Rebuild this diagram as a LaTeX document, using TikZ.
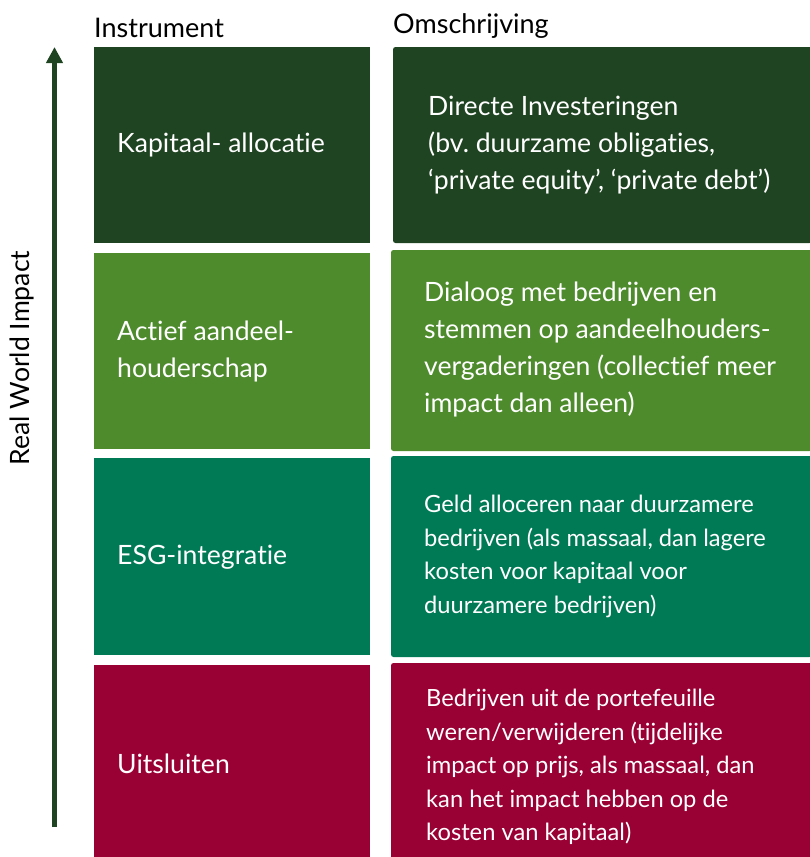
\documentclass[tikz,border=0pt]{standalone}
\usepackage{fontspec}
\setmainfont[Ligatures=NoCommon]{Lato}
\usetikzlibrary{arrows.meta}
\definecolor{dkgreen}{RGB}{31,68,34}
\definecolor{ltgreen}{RGB}{78,139,44}
\definecolor{tealgreen}{RGB}{0,122,85}
\definecolor{crimson}{RGB}{153,0,51}
\frenchspacing
\begin{document}
\begin{tikzpicture}[x=1pt,y=-1pt,
  ltext/.style={text=white,anchor=west,align=left,inner sep=0pt,font=\fontsize{26.6}{37}\selectfont},
  rtext/.style={text=white,anchor=west,align=left,inner sep=0pt,font=\fontsize{26.6}{37}\selectfont},
  stext/.style={text=white,anchor=west,align=left,inner sep=0pt,font=\fontsize{23.7}{33.5}\selectfont},
  head/.style={anchor=base west,inner sep=0pt,font=\fontsize{27}{30}\selectfont}]
\useasboundingbox (0,0) rectangle (809,857);
% left column
\fill[dkgreen] (94,47) rectangle (370,243);
\fill[ltgreen] (94,253) rectangle (370,449);
\fill[tealgreen] (94,458) rectangle (370,655);
\fill[crimson] (94,665) rectangle (370,860);
% right column
\fill[dkgreen,rounded corners=2.5pt] (393,47) rectangle (812,243);
\fill[ltgreen,rounded corners=2.5pt] (391,250) rectangle (812,451);
\fill[tealgreen,rounded corners=2.5pt] (391,456) rectangle (812,657);
\fill[crimson,rounded corners=2.5pt] (391,663) rectangle (812,862);
% headers
\node[head] (hinst) at (94,37) {Instrument};
\node[head] (homs) at (393,33) {Omschrijving};
% arrow
\coordinate (abot) at (54.5,827);
\coordinate (atop) at (54.5,47);
\draw[dkgreen,line width=5pt,-{Triangle[width=16pt,length=16pt]}] (abot) -- (atop);
\node[rotate=90,inner sep=0pt,font=\fontsize{26.6}{30}\selectfont] (rwi) at (22,358) {Real World Impact};
% left texts
\node[ltext] (k1) at (117,145) {Kapitaal- allocatie};
\node[ltext] (k2) at (117,351.5) {Actief aandeel-\\houderschap};
\node[ltext] (k3) at (117,557) {ESG-integratie};
\node[ltext] (k4) at (117,764) {Uitsluiten};
% right texts
\node[rtext] (o1) at (428,145.5) {Directe Investeringen\\(bv. duurzame obligaties,\\‘private equity’, ‘private debt’)};
\node[rtext] (o2) at (424,349) {Dialoog met bedrijven en\\stemmen op aandeelhouders-\\vergaderingen (collectief meer\\impact dan alleen)};
\node[stext] (o3) at (424,556.5) {Geld alloceren naar duurzamere\\bedrijven (als massaal, dan lagere\\kosten voor kapitaal voor\\duurzamere bedrijven)};
\node[stext] (o4) at (426,767) {Bedrijven uit de portefeuille\\weren/verwijderen (tijdelijke\\impact op prijs, als massaal, dan\\kan het impact hebben op de\\kosten van kapitaal)};
\end{tikzpicture}
\end{document}
